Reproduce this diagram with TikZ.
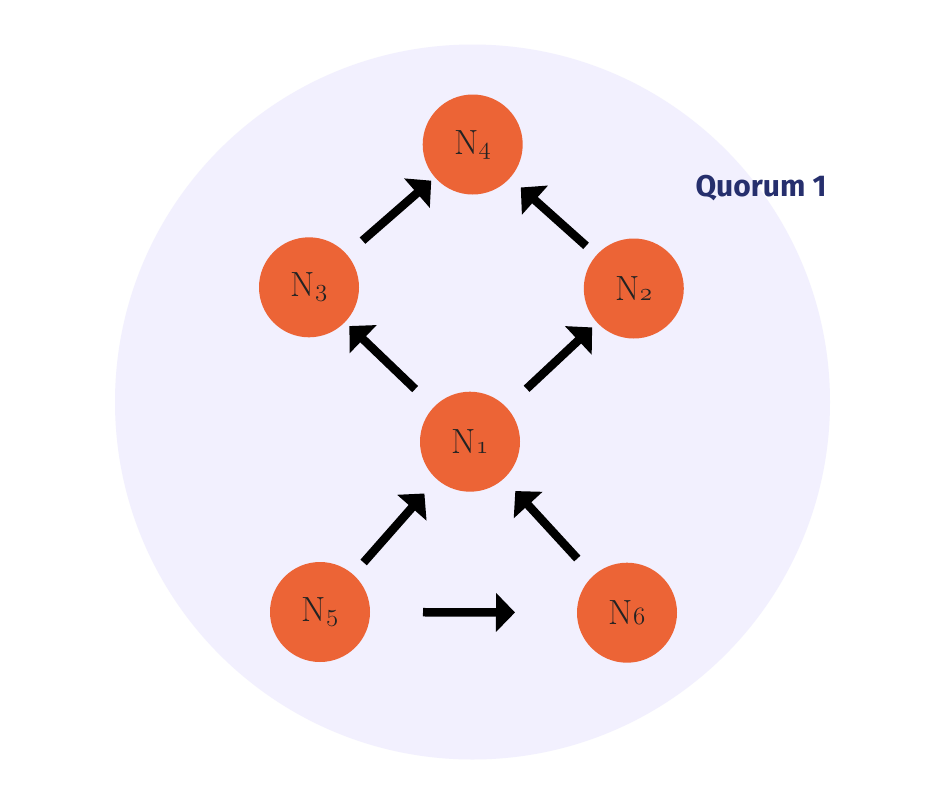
\documentclass[tikz,border=0pt]{standalone}
\usepackage{fontspec}
\newfontfamily\quorumfont{Fira Sans}
\usetikzlibrary{arrows.meta}
\definecolor{peerorange}{HTML}{EC6436}
\definecolor{quorumbg}{HTML}{F2F0FE}
\definecolor{quorumblue}{HTML}{262F6D}
\definecolor{peertext}{HTML}{232323}
\newcommand{\osf}[1]{{\usefont{OML}{lmm}{m}{it}#1}}
\tikzset{peer/.style={shape=circle,minimum size=100pt,inner sep=0pt,outer sep=0pt,
        fill=peerorange,text=peertext,font=\fontsize{35}{35}\selectfont},
        vote/.style={line width=8.5pt,-{Triangle[length=19pt,width=38pt]}}}

\begin{document}
\begin{tikzpicture}[x=1pt,y=-1pt]
  \fill[white] (0,0) rectangle (940,788);
  \useasboundingbox (0,0) rectangle (940,788);
  \node[circle,fill=quorumbg,minimum size=715pt,inner sep=0pt] (quorum) at (472.5,402) {};
  \node[text=quorumblue,font=\quorumfont\bfseries\fontsize{30}{30}\selectfont] (quorumlabel) at (761,188) {Quorum 1};
  \node[peer] (N4) at (472.7,144.5) {N\osf{4}};
  \node[peer] (N3) at (309,287.3) {N\osf{3}};
  \node[peer] (N2) at (633.8,288.5) {N\osf{2}};
  \node[peer] (N1) at (470,441.7) {N\osf{1}};
  \node[peer] (N5) at (320,612) {N\osf{5}};
  \node[peer] (N6) at (627,612.7) {N\osf{6}};
  \draw[vote,shorten <=21pt,shorten >=5pt] (N3) -- (N4);
  \draw[vote,shorten <=14pt,shorten >=14.5pt] (N2) -- (N4);
  \draw[vote,shorten <=26pt,shorten >=6pt] (N1) -- (N3);
  \draw[vote,shorten <=27.5pt,shorten >=7pt] (N1) -- (N2);
  \draw[vote,shorten <=16pt,shorten >=19pt] (N5) -- (N1);
  \draw[vote,shorten <=23.5pt,shorten >=17pt] (N6) -- (N1);
  \draw[vote,shorten <=53pt,shorten >=62pt] (N5) -- (N6);
\end{tikzpicture}
\end{document}
